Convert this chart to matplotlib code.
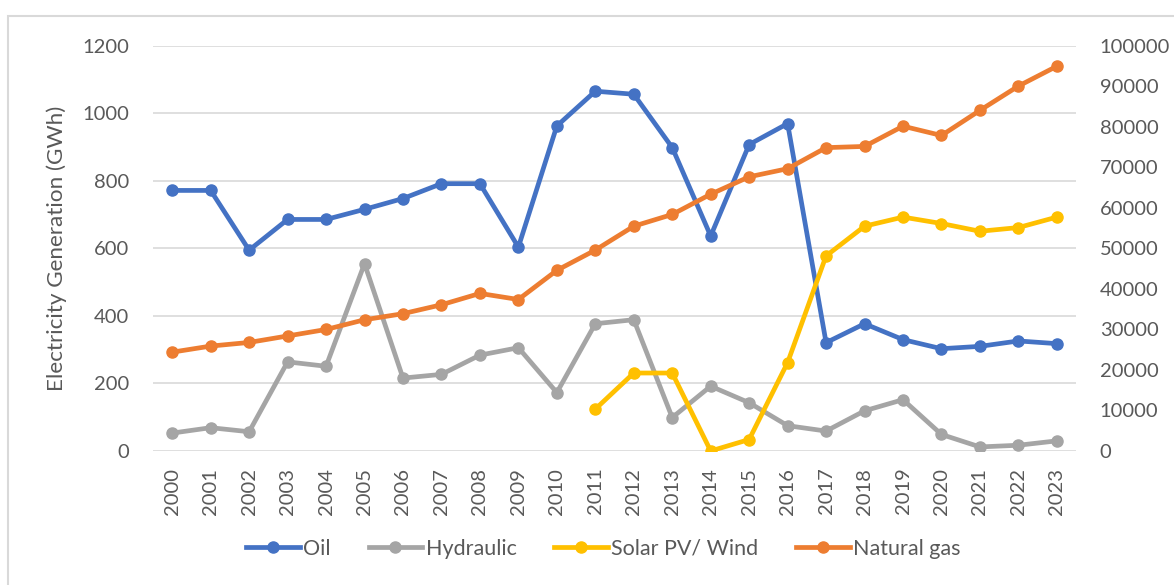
import matplotlib.pyplot as plt
from matplotlib.patches import Rectangle

years = [str(y) for y in range(2000, 2024)]

oil = [772, 772, 595, 686, 686, 716, 748, 792, 792, 604, 963, 1066,
       1057, 899, 637, 908, 970, 321, 377, 330, 303, 310, 326, 318]
hydraulic = [53, 69, 57, 264, 251, 555, 216, 227, 284, 306, 173, 377,
             389, 99, 192, 143, 75, 59, 119, 152, 49, 12, 17, 30]
# solar starts in 2011
solar_years = years[11:]
solar = [124, 231, 231, 0, 34, 262, 578, 666, 693, 674, 651, 662, 693]
# natural gas is on the right axis
natural_gas = [24400, 25900, 26800, 28400, 30000, 32400, 33900, 36100, 38900, 37400, 44600, 49600,
               55500, 58400, 63400, 67700, 69700, 74900, 75200, 80200, 77900, 84100, 90100, 95000]

plt.rcParams['font.family'] = ['Lato', 'DejaVu Sans']
text_col = '#595959'

fig = plt.figure(figsize=(11.74, 5.85), dpi=100)
ax = fig.add_axes([0.1303, 0.2291, 0.7863, 0.6923])
ax2 = ax.twinx()

lw = 3.4
ms = 8
x = list(range(len(years)))
xs = list(range(11, 24))
ax.plot(x, oil, color='#4472C4', lw=lw, marker='o', ms=ms, label='Oil')
ax.plot(x, hydraulic, color='#A5A5A5', lw=lw, marker='o', ms=ms, label='Hydraulic')
ax.plot(xs, solar, color='#FFC000', lw=lw, marker='o', ms=ms, label='Solar PV/ Wind')
ax2.plot(x, natural_gas, color='#ED7D31', lw=lw, marker='o', ms=ms, label='Natural gas')

ax.set_xlim(-0.5, 23.5)
ax.set_ylim(0, 1200)
ax2.set_ylim(0, 100000)
ax.set_yticks(range(0, 1201, 200))
ax2.set_yticks(range(0, 100001, 10000))
ax.set_xticks(x)
ax.set_xticklabels(years, rotation=90)

ax.grid(axis='y', color='#D9D9D9', lw=1.2)
ax.set_axisbelow(True)
for a in (ax, ax2):
    for s in a.spines.values():
        s.set_visible(False)
    a.tick_params(length=0, labelsize=14.5, colors=text_col)
ax.tick_params(axis='y', pad=17)
ax.tick_params(axis='x', pad=12)
ax2.tick_params(axis='y', pad=17)

ax.set_ylabel('Electricity Generation (GWh)', fontsize=16.2, color=text_col, labelpad=11)

h1, l1 = ax.get_legend_handles_labels()
h2, l2 = ax2.get_legend_handles_labels()
fig.legend(h1 + h2, l1 + l2, loc='center', bbox_to_anchor=(0.514, 0.062), ncol=4,
           frameon=False, fontsize=15.5, labelcolor=text_col, handlelength=2.5,
           handletextpad=0.15, columnspacing=1.75)

fig.patches.append(Rectangle((8 / 1174, -0.1), 1.2, 1 - 16 / 585 + 0.1, transform=fig.transFigure,
                             fill=False, edgecolor='#D9D9D9', lw=1.5))

fig.savefig('out.png', dpi=100)
